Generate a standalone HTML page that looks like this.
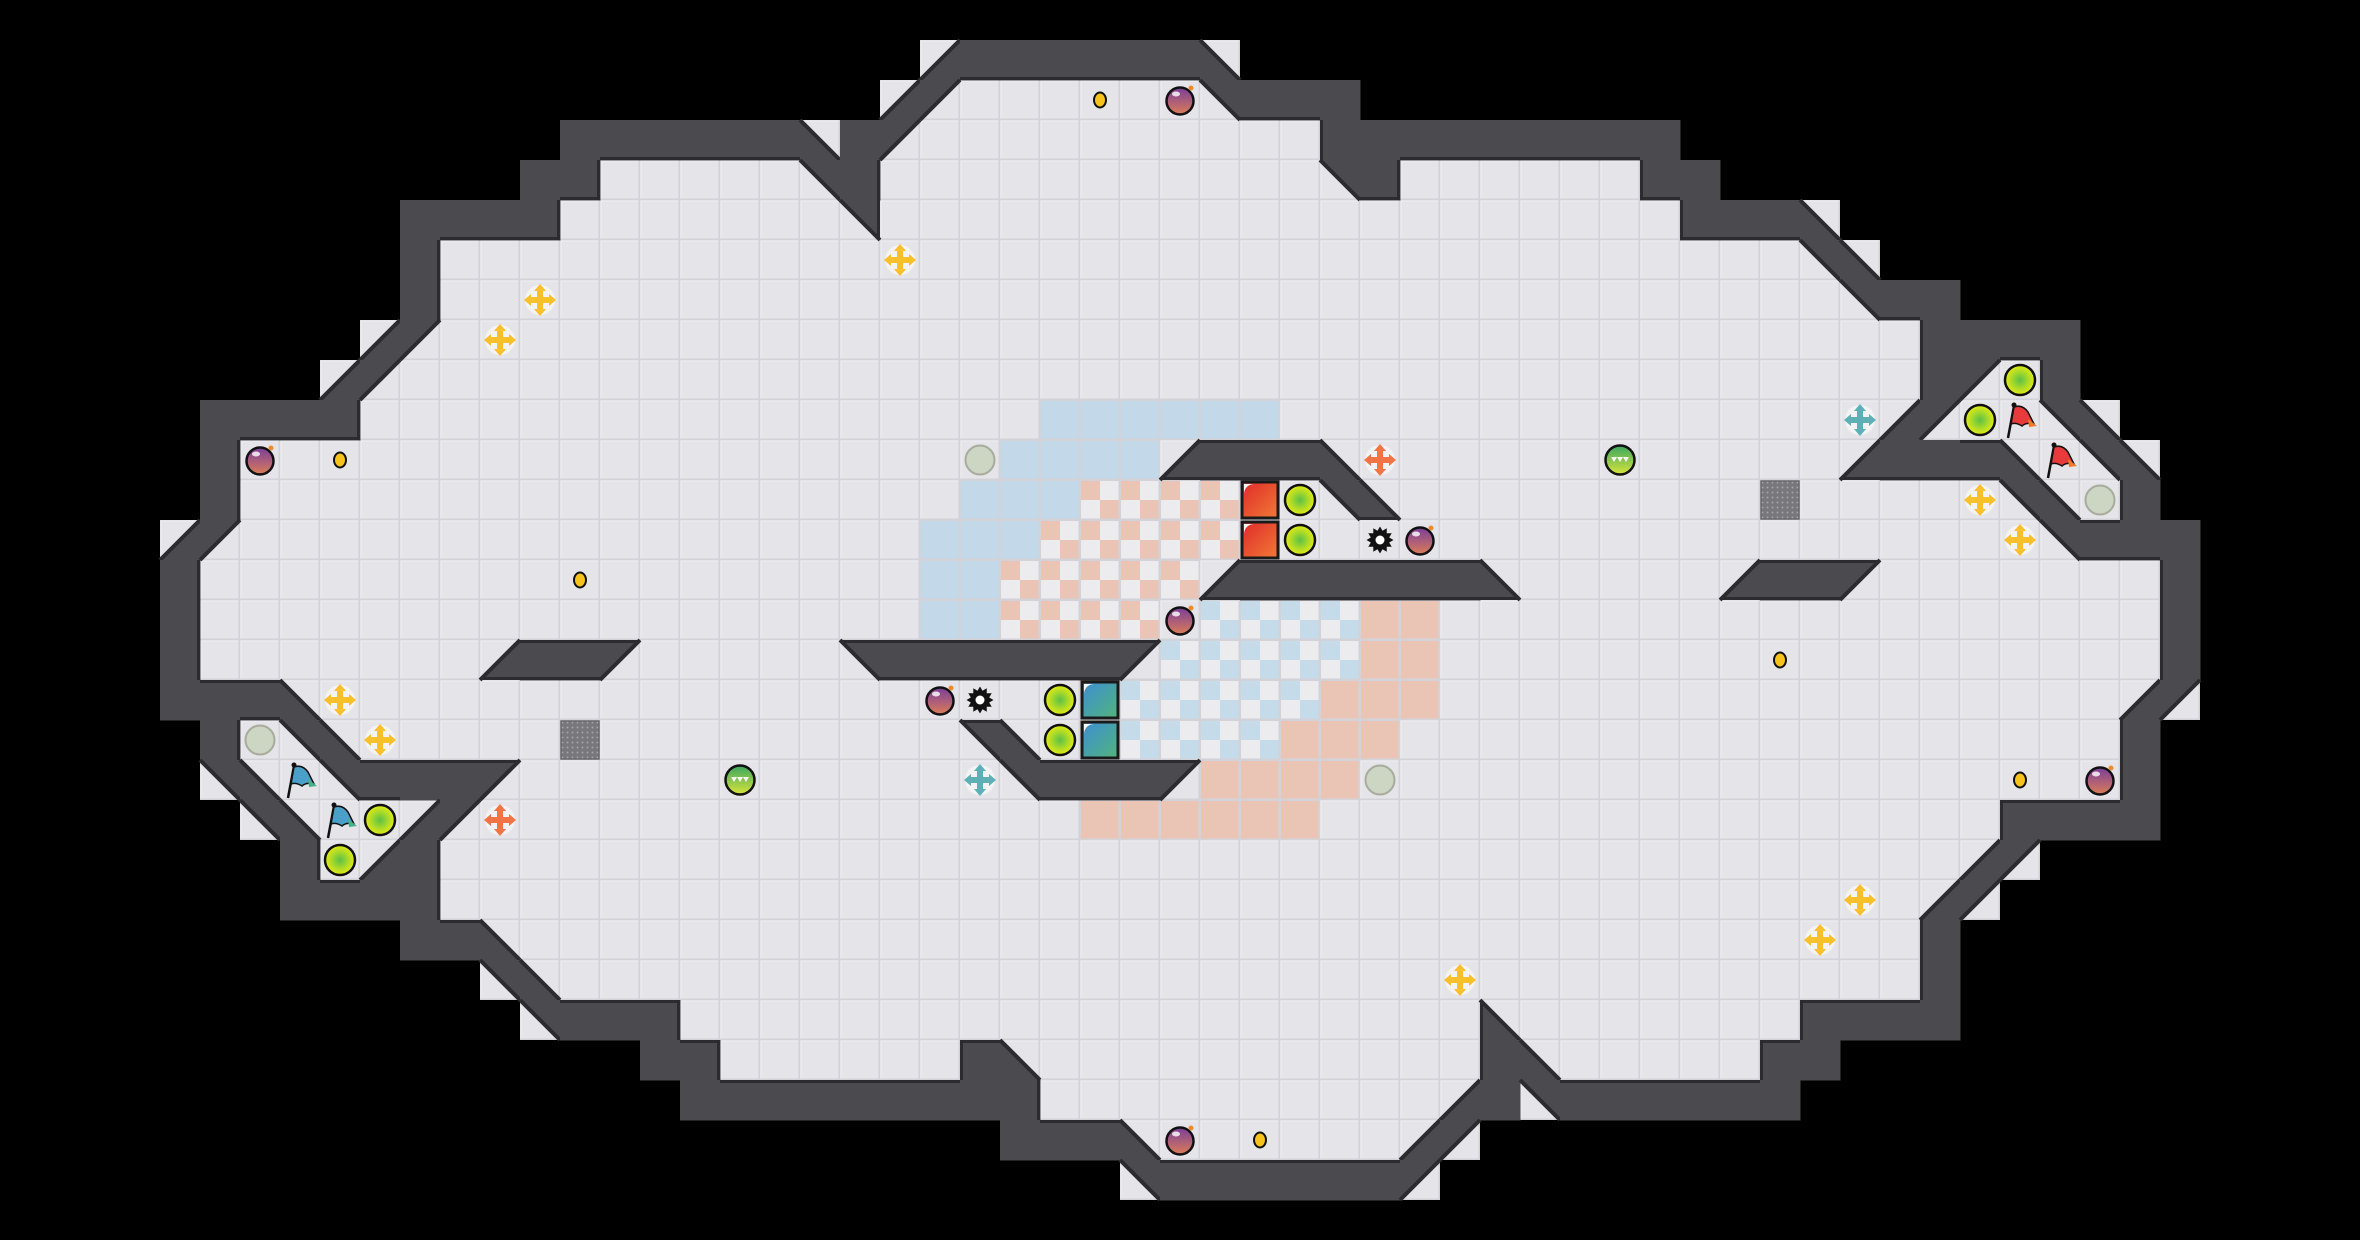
<!DOCTYPE html>
<html><head><meta charset="utf-8"><style>
html,body{margin:0;padding:0;background:#000;width:2360px;height:1240px;overflow:hidden}
svg{display:block}
</style></head><body>
<svg id="m" width="2360" height="1240" xmlns="http://www.w3.org/2000/svg"></svg>
<script>
const T=40,W=59,H=31;
const g=[];for(let r=0;r<H;r++)g.push(Array(W).fill(' '));
function s(r,c1,c2,ch){for(let c=c1;c<=c2;c++)g[r][c]=ch;}
// rows 0-15
s(1,23,23,'d');s(1,24,29,'#');s(1,30,30,'c');
s(2,22,22,'d');s(2,23,23,'a');s(2,24,29,'.');s(2,30,30,'b');s(2,31,33,'#');
s(3,14,19,'#');s(3,20,20,'c');s(3,21,21,'#');s(3,22,22,'a');s(3,23,32,'.');s(3,33,41,'#');
s(4,13,14,'#');s(4,15,19,'.');s(4,20,20,'b');s(4,21,21,'#');s(4,22,32,'.');s(4,33,33,'b');s(4,34,34,'#');s(4,35,40,'.');s(4,41,42,'#');
s(5,10,13,'#');s(5,14,41,'.');s(5,21,21,'b');s(5,42,44,'#');s(5,45,45,'c');
s(6,10,10,'#');s(6,11,44,'.');s(6,45,45,'b');s(6,46,46,'c');
s(7,10,10,'#');s(7,11,45,'.');s(7,46,46,'b');s(7,47,48,'#');
s(8,9,9,'d');s(8,10,10,'a');s(8,11,47,'.');s(8,48,51,'#');
s(9,8,8,'d');s(9,9,9,'a');s(9,10,47,'.');s(9,48,48,'#');s(9,49,49,'a');s(9,50,50,'.');s(9,51,51,'#');
s(10,5,8,'#');s(10,9,46,'.');s(10,47,47,'d');s(10,48,48,'a');s(10,49,50,'.');s(10,51,51,'b');s(10,52,52,'c');
s(11,5,5,'#');s(11,6,45,'.');s(11,46,46,'d');s(11,47,49,'#');s(11,50,50,'c');s(11,51,51,'.');s(11,52,52,'b');s(11,53,53,'c');
s(11,29,29,'d');s(11,30,32,'#');s(11,33,33,'c');
s(12,5,5,'#');s(12,6,49,'.');s(12,50,50,'b');s(12,51,51,'c');s(12,52,52,'.');s(12,53,53,'#');
s(12,33,33,'b');s(12,34,34,'c');
s(13,4,4,'d');s(13,5,5,'a');s(13,6,50,'.');s(13,51,51,'b');s(13,52,54,'#');
s(14,4,4,'#');s(14,5,53,'.');s(14,54,54,'#');
s(14,43,43,'d');s(14,44,45,'#');s(14,46,46,'a');
s(14,30,30,'d');s(14,31,36,'#');s(14,37,37,'c');
s(15,4,4,'#');s(15,5,53,'.');s(15,54,54,'#');
const rot={a:'d',d:'a',b:'c',c:'b','#':'#','.':'.',' ':' '};
for(let r=16;r<H;r++)for(let c=0;c<W;c++)g[r][c]=rot[g[30-r][58-c]];
// colored floor
const col=[];for(let r=0;r<H;r++)col.push(Array(W).fill(null));
function cs(r,c1,c2,v){for(let c=c1;c<=c2;c++){col[r][c]=v;const v2={B:'R',R:'B',rc:'bc',bc:'rc'}[v];col[30-r][58-c]=v2;}}
cs(10,26,31,'B');cs(11,25,28,'B');cs(12,24,26,'B');cs(13,23,25,'B');cs(14,23,24,'B');cs(15,23,24,'B');
cs(12,27,30,'rc');cs(13,26,30,'rc');cs(14,25,29,'rc');cs(15,25,28,'rc');

let o=[];
o.push(`<defs>
<pattern id="rcp" patternUnits="userSpaceOnUse" width="40" height="40"><rect width="40" height="40" fill="#ececee"/><rect width="20" height="20" fill="#eac4b4"/><rect x="20" y="20" width="20" height="20" fill="#eac4b4"/></pattern>
<pattern id="bcp" patternUnits="userSpaceOnUse" width="40" height="40"><rect width="40" height="40" fill="#ececee"/><rect width="20" height="20" fill="#c6dbea"/><rect x="20" y="20" width="20" height="20" fill="#c6dbea"/></pattern>
<radialGradient id="yb" cx="50%" cy="50%" r="50%"><stop offset="0" stop-color="#5cc046"/><stop offset="1" stop-color="#e6ee12"/></radialGradient>
<linearGradient id="bm" x1="0" y1="0" x2="0" y2="1"><stop offset="0" stop-color="#7a3e9c"/><stop offset="1" stop-color="#dc7c58"/></linearGradient>
<linearGradient id="gb" x1="0" y1="0" x2="0" y2="1"><stop offset="0" stop-color="#3aa860"/><stop offset="1" stop-color="#d8e43a"/></linearGradient>
<linearGradient id="rbk" x1="0" y1="0" x2="1" y2="1"><stop offset="0" stop-color="#e02a2a"/><stop offset="1" stop-color="#f07a36"/></linearGradient>
<linearGradient id="bbk" x1="0" y1="0" x2="1" y2="1"><stop offset="0" stop-color="#3c8ed4"/><stop offset="1" stop-color="#52b47c"/></linearGradient>
<pattern id="gt" patternUnits="userSpaceOnUse" width="5" height="5"><rect width="5" height="5" fill="#77777c"/><circle cx="2.5" cy="2.5" r="1" fill="#a4a4a8"/></pattern>
</defs>`);
const fillC={B:'#c3d8e8',R:'#eac5b6',rc:'url(#rcp)',bc:'url(#bcp)'};
// floor layer
for(let r=0;r<H;r++)for(let c=0;c<W;c++){const t=g[r][c];if(t===' '||t==='#')continue;
 const x=c*T,y=r*T;const cv=col[r][c];
 o.push(`<rect x="${x}" y="${y}" width="40" height="40" fill="#d2d2d8"/>`);
 o.push(`<rect x="${x+1}" y="${y+1}" width="37.5" height="37.5" fill="${cv?fillC[cv]:'#e5e5e9'}"/>`);
 if(!cv)o.push(`<path d="M${x+1} ${y+38.5}V${y+1}H${x+38.5}" stroke="#ececf0" stroke-width="1.5" fill="none"/>`);
}
const WC='#4a4a4f',EC='#2c2c30';
const isF=(r,c)=>r>=0&&r<H&&c>=0&&c<W&&'.abcd'.includes(g[r][c]);
const isFl=(r,c)=>r>=0&&r<H&&c>=0&&c<W&&g[r][c]==='.';
for(let r=0;r<H;r++)for(let c=0;c<W;c++){const t=g[r][c];const x=c*T,y=r*T,X=x+T,Y=y+T;
 if(t==='#'){o.push(`<rect x="${x}" y="${y}" width="40.5" height="40.5" fill="${WC}"/>`);}
 else if('abcd'.includes(t)){
  const p={a:[[x,y],[X,y],[x,Y]],b:[[x,y],[X,y],[X,Y]],c:[[x,y],[x,Y],[X,Y]],d:[[X,y],[X,Y],[x,Y]]}[t];
  o.push(`<polygon points="${p.map(q=>q.join(',')).join(' ')}" fill="${WC}"/>`);
  const h={a:[[X,y],[x,Y]],b:[[x,y],[X,Y]],c:[[x,y],[X,Y]],d:[[X,y],[x,Y]]}[t];
  o.push(`<line x1="${h[0][0]}" y1="${h[0][1]}" x2="${h[1][0]}" y2="${h[1][1]}" stroke="${EC}" stroke-width="4"/>`);
 }}
// edge strokes for full walls / diagonal legs adjacent to floor
for(let r=0;r<H;r++)for(let c=0;c<W;c++){const t=g[r][c];if(!'#abcd'.includes(t))continue;const x=c*T,y=r*T,X=x+T,Y=y+T;
 const legs={'#':'tblr',a:'tl',b:'tr',c:'bl',d:'br'}[t];
 if(legs.includes('t')&&isFl(r-1,c))o.push(`<line x1="${x}" y1="${y+1.5}" x2="${X}" y2="${y+1.5}" stroke="${EC}" stroke-width="3"/>`);
 if(legs.includes('b')&&isFl(r+1,c))o.push(`<line x1="${x}" y1="${Y-1.5}" x2="${X}" y2="${Y-1.5}" stroke="${EC}" stroke-width="3"/>`);
 if(legs.includes('l')&&isFl(r,c-1))o.push(`<line x1="${x+1.5}" y1="${y}" x2="${x+1.5}" y2="${Y}" stroke="${EC}" stroke-width="3"/>`);
 if(legs.includes('r')&&isFl(r,c+1))o.push(`<line x1="${X-1.5}" y1="${y}" x2="${X-1.5}" y2="${Y}" stroke="${EC}" stroke-width="3"/>`);
}
// items
function boost(cx,cy,colr){let a=`<circle cx="${cx}" cy="${cy}" r="15" fill="#ffffff" opacity="0.55"/>`;
 a+=`<g fill="${colr}"><rect x="${cx-3}" y="${cy-10}" width="6" height="20"/><rect x="${cx-10}" y="${cy-3}" width="20" height="6"/>
 <polygon points="${cx},${cy-16} ${cx-6},${cy-9} ${cx+6},${cy-9}"/><polygon points="${cx},${cy+16} ${cx-6},${cy+9} ${cx+6},${cy+9}"/>
 <polygon points="${cx-16},${cy} ${cx-9},${cy-6} ${cx-9},${cy+6}"/><polygon points="${cx+16},${cy} ${cx+9},${cy-6} ${cx+9},${cy+6}"/></g>`;return a;}
function item(t,c,r){const cx=c*T+20,cy=r*T+20,x=c*T,y=r*T;
 switch(t){
 case 'dot':return `<ellipse cx="${cx}" cy="${cy}" rx="6" ry="7.5" fill="#f6c21c" stroke="#111" stroke-width="2"/>`;
 case 'bomb':return `<circle cx="${cx}" cy="${cy+1}" r="13.5" fill="url(#bm)" stroke="#111" stroke-width="2.5"/><ellipse cx="${cx-4}" cy="${cy-6}" rx="4" ry="2.5" fill="#fff" opacity=".8"/><circle cx="${cx+11}" cy="${cy-12}" r="2.5" fill="#f08a2a"/>`;
 case 'yball':return `<circle cx="${cx}" cy="${cy}" r="15" fill="url(#yb)" stroke="#111" stroke-width="2.5"/>`;
 case 'gray':return `<circle cx="${cx}" cy="${cy}" r="14.5" fill="#cdd6c2" stroke="#a8ab9f" stroke-width="2"/>`;
 case 'green':return `<circle cx="${cx}" cy="${cy}" r="14.5" fill="url(#gb)" stroke="#111" stroke-width="2.5"/><path d="M${cx-9} ${cy-3}h18l-3 5l-3-5l-3 5l-3-5l-3 5z" fill="#fff"/>`;
 case 'yboost':return boost(cx,cy,'#f8c02a');
 case 'rboost':return boost(cx,cy,'#f27444');
 case 'tboost':return boost(cx,cy,'#5fb0b4');
 case 'gate':return `<rect x="${x+1}" y="${y+1}" width="38" height="38" fill="url(#gt)" stroke="#66666a" stroke-width="1.5"/>`;
 case 'rblock':case 'bblock':return `<rect x="${x+2}" y="${y+2}" width="36" height="36" fill="url(#${t==='rblock'?'rbk':'bbk'})" stroke="#1a1a1a" stroke-width="3"/><path d="M${x+4} ${y+14}A10 10 0 0 1 ${x+14} ${y+4}H${x+4}Z" fill="#fff"/>`;
 case 'spike':{let p=[];for(let i=0;i<24;i++){const a=i*Math.PI/12,rr=i%2?9.5:13.5;p.push((cx+rr*Math.cos(a)).toFixed(1)+','+(cy+rr*Math.sin(a)).toFixed(1));}
   return `<polygon points="${p.join(' ')}" fill="#111"/><circle cx="${cx}" cy="${cy}" r="4.5" fill="#fff"/>`;}
 case 'rflag':case 'bflag':{const f=t==='rflag'?'#e83a3a':'#4aa0c8',tl=t==='rflag'?'#f07a2a':'#48b08a';
   return `<line x1="${cx-12}" y1="${cy+18}" x2="${cx-6}" y2="${cy-14}" stroke="#111" stroke-width="2.5"/><circle cx="${cx-6}" cy="${cy-15}" r="2.5" fill="#111"/><path d="M${cx-6} ${cy-13}Q${cx+2} ${cy-16} ${cx+8} ${cy-8}L${cx+14} ${cy+4}Q${cx+6} ${cy+2} ${cx+2} ${cy+6}Q${cx-4} ${cy+2} ${cx-9} ${cy+4}Z" fill="${f}" stroke="#111" stroke-width="1.5"/><path d="M${cx+8} ${cy-1}L${cx+17} ${cy+6}L${cx+9} ${cy+7}Z" fill="${tl}"/>`;}
 }return '';}
const items=[['dot',27,2],['bomb',29,2],['yboost',22,6],['yboost',13,7],['yboost',12,8],['bomb',6,11],['dot',8,11],['gray',24,11],['dot',14,14],['rboost',34,11],['green',40,11],['tboost',46,10],['yball',50,9],['yball',49,10],['rflag',50,10],['rflag',51,11],['gray',52,12],['yboost',49,12],['yboost',50,13],['gate',44,12],['rblock',31,12],['rblock',31,13],['yball',32,12],['yball',32,13],['spike',34,13],['bomb',35,13]];
const sw={rboost:'tboost',tboost:'rboost',rflag:'bflag',rblock:'bblock'};
for(const [t,c,r] of items){o.push(item(t,c,r));o.push(item(sw[t]||t,58-c,30-r));}
o.push(item('bomb',29,15));
document.getElementById('m').innerHTML=o.join('');
</script>
</body></html>
